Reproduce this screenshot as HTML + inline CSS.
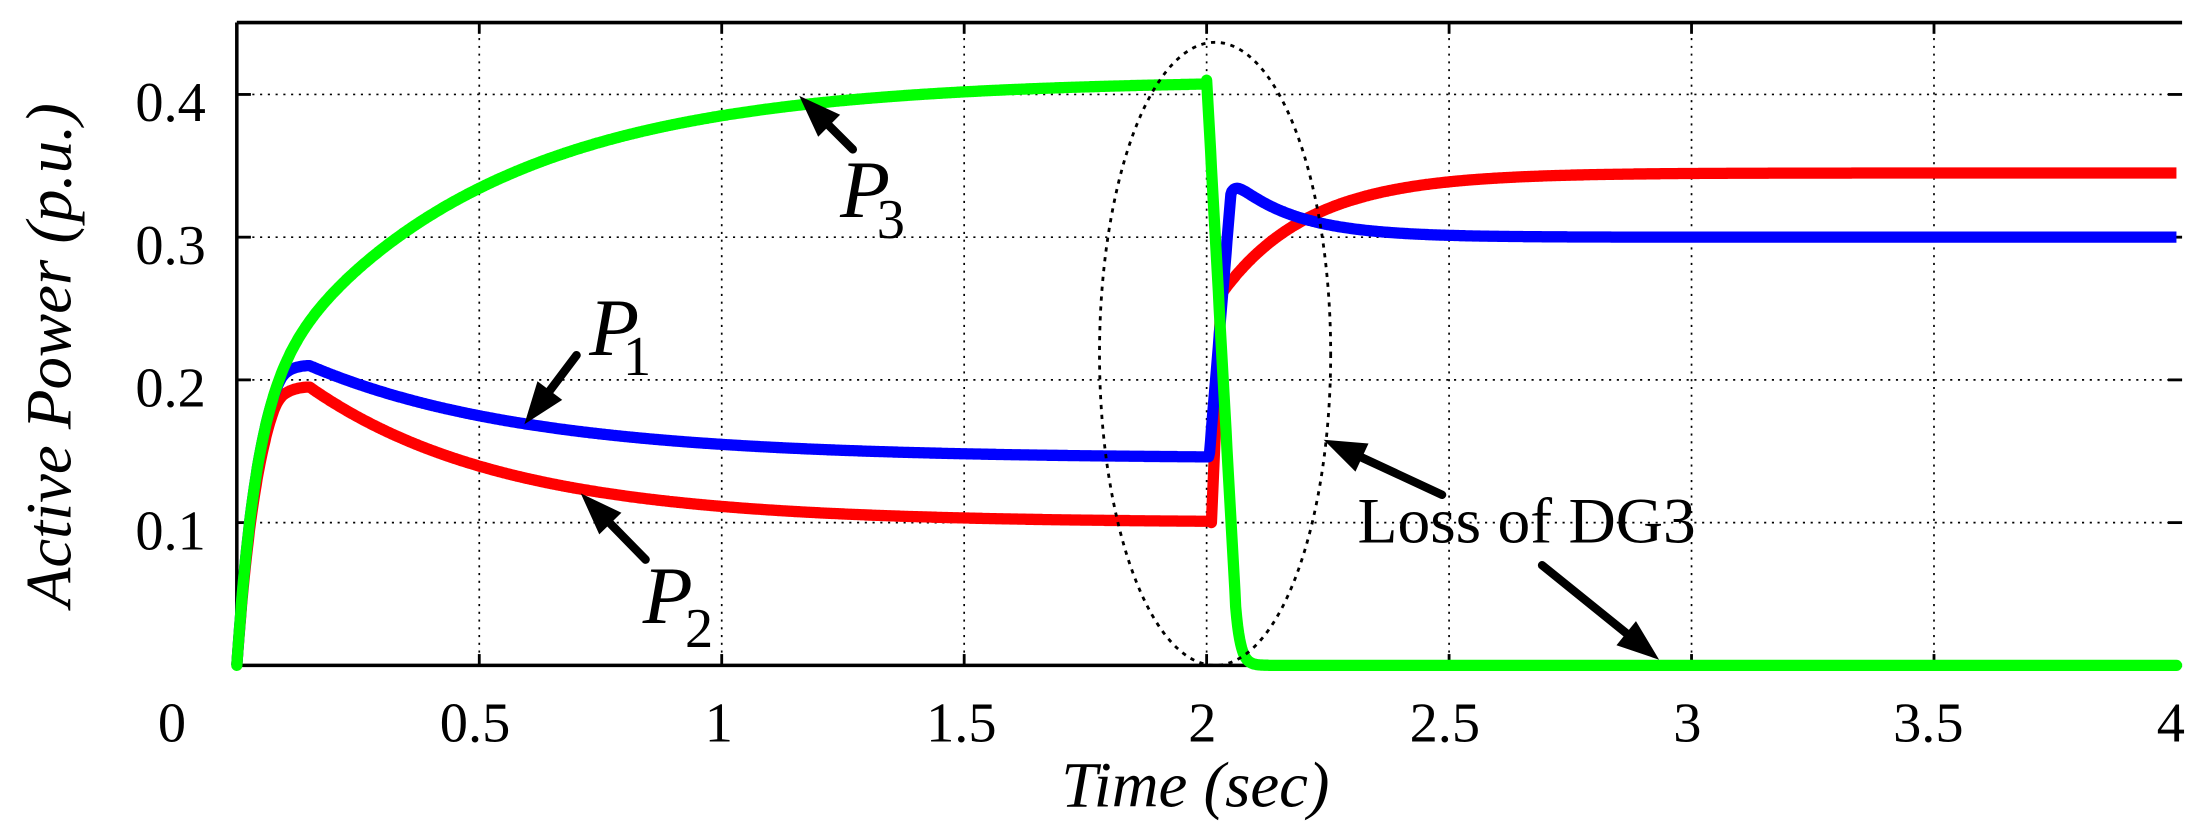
<!DOCTYPE html>
<html><head><meta charset="utf-8"><style>
html,body{margin:0;padding:0;background:#fff;width:2199px;height:835px;overflow:hidden}
svg{display:block}
text{font-family:"Liberation Serif",serif;fill:#000}
</style></head><body>
<svg id="s" width="2199" height="835" viewBox="0 0 1560 592.36" preserveAspectRatio="none" xmlns="http://www.w3.org/2000/svg">
<g id="grid" stroke="#000" stroke-width="1.2" stroke-dasharray="1.5,4"></g>
<g stroke="#000" stroke-width="2.5" fill="none">
<line x1="168" y1="16" x2="1548" y2="16"/>
<line x1="168" y1="472" x2="1548" y2="472"/>
<line x1="168" y1="16" x2="168" y2="472"/>
</g>
<g id="ticks" stroke="#000" stroke-width="2"></g>
<g id="lbl" font-size="40"></g>
<path id="red" fill="none" stroke="#ff0000" stroke-width="8" stroke-linejoin="round"/>
<path id="blue" fill="none" stroke="#0000ff" stroke-width="8" stroke-linejoin="round"/>
<path id="green" fill="none" stroke="#00ff00" stroke-width="8" stroke-linejoin="round" stroke-linecap="round"/>
<ellipse cx="862" cy="251" rx="82" ry="221" fill="none" stroke="#000" stroke-width="2" stroke-dasharray="3,4"/>
<g id="arr"></g>
<text x="596" y="154" font-size="58" font-style="italic">P</text><text x="622" y="169" font-size="40">3</text>
<text x="418" y="252" font-size="58" font-style="italic">P</text><text x="442" y="266" font-size="40">1</text>
<text x="456" y="442" font-size="58" font-style="italic">P</text><text x="486" y="459" font-size="40">2</text>
<text x="963" y="385" font-size="46" textLength="240" lengthAdjust="spacingAndGlyphs">Loss of DG3</text>
<text x="848" y="572" font-size="46" font-style="italic" text-anchor="middle">Time (sec)</text>
<text transform="translate(50,252) rotate(-90)" font-size="46" font-style="italic" text-anchor="middle">Active Power (p.u.)</text>
</svg>
<script>
var X=t=>168+t*344, Y=v=>472-v*1012.5;
var g=document.getElementById('grid'),tk=document.getElementById('ticks'),lb=document.getElementById('lbl'),ar=document.getElementById('arr');
var ns='http://www.w3.org/2000/svg';
function el(p,n,a,txt){var e=document.createElementNS(ns,n);for(var k in a)e.setAttribute(k,a[k]);if(txt)e.textContent=txt;p.appendChild(e);}
for(var i=1;i<8;i++){var x=X(i*0.5);el(g,'line',{x1:x,y1:16,x2:x,y2:472});el(tk,'line',{x1:x,y1:472,x2:x,y2:464});el(tk,'line',{x1:x,y1:16,x2:x,y2:24});}
for(var j=1;j<=4;j++){var y=Y(j*0.1);el(g,'line',{x1:168,y1:y,x2:1548,y2:y});el(tk,'line',{x1:168,y1:y,x2:178,y2:y});el(tk,'line',{x1:1548,y1:y,x2:1538,y2:y});
el(lb,'text',{x:146,y:y+19,'text-anchor':'end'},'0.'+j);}
var xl=['0','0.5','1','1.5','2','2.5','3','3.5','4'],xp=[122,337,510,682,853,1025,1197,1368,1540];
for(var i=0;i<9;i++)el(lb,'text',{x:xp[i],y:526,'text-anchor':'middle'},xl[i]);
function arrow(x1,y1,x2,y2){var dx=x2-x1,dy=y2-y1,L=Math.hypot(dx,dy),ux=dx/L,uy=dy/L,h=30,w=11;
var bx=x2-ux*h,by=y2-uy*h;
el(ar,'line',{x1:x1,y1:y1,x2:bx+ux*4,y2:by+uy*4,stroke:'#000','stroke-width':6,'stroke-linecap':'round'});
el(ar,'polygon',{points:x2+','+y2+' '+(bx-uy*w)+','+(by+ux*w)+' '+(bx+uy*w)+','+(by-ux*w),fill:'#000'});}
arrow(605,106,567,68);
arrow(409,252,372,301);
arrow(458,397,412,350);
arrow(1023,351,939,312);
arrow(1094,401,1177,468);
function path(f){var d='';for(var t=0;t<=4.0001;t+=0.002){d+=(d?'L':'M')+X(t).toFixed(1)+','+Y(f(t)).toFixed(1);}return d;}
function g0(t){return 0.41-0.23*Math.exp(-t/0.45)-0.18*Math.exp(-t/0.04);}
function green(t){if(t<2)return g0(t);if(t<2.06)return 0.41*(1-(t-2)/0.06*0.9);return Math.max(0,0.041*Math.exp(-(t-2.06)/0.01));}
function sm(a,b,k){return -k*Math.log(Math.exp(-a/k)+Math.exp(-b/k));}
function hump(t,base,amp,tau){var u=t-0.15;return u<0?base+amp-0.5*u*u*3:base+amp*Math.exp(-u/tau);}
function blue(t){if(t<2.005)return sm(g0(t),hump(t,0.145,0.065,0.45),0.005);if(t<2.05)return 0.145+(0.33-0.145)*(t-2.005)/0.045;return 0.30+0.035*Math.exp(-(t-2.07)/0.13)-0.01*Math.exp(-(t-2.05)/0.01);}
function red(t){if(t<2.01)return sm(g0(t)*0.95,hump(t,0.1,0.095,0.4),0.005);if(t<2.03)return 0.1+(0.26-0.1)*(t-2.01)/0.02;return 0.345-0.085*Math.exp(-(t-2.03)/0.18);}
document.getElementById('green').setAttribute('d',path(green));
document.getElementById('blue').setAttribute('d',path(blue));
document.getElementById('red').setAttribute('d',path(red));
</script>
</body></html>
